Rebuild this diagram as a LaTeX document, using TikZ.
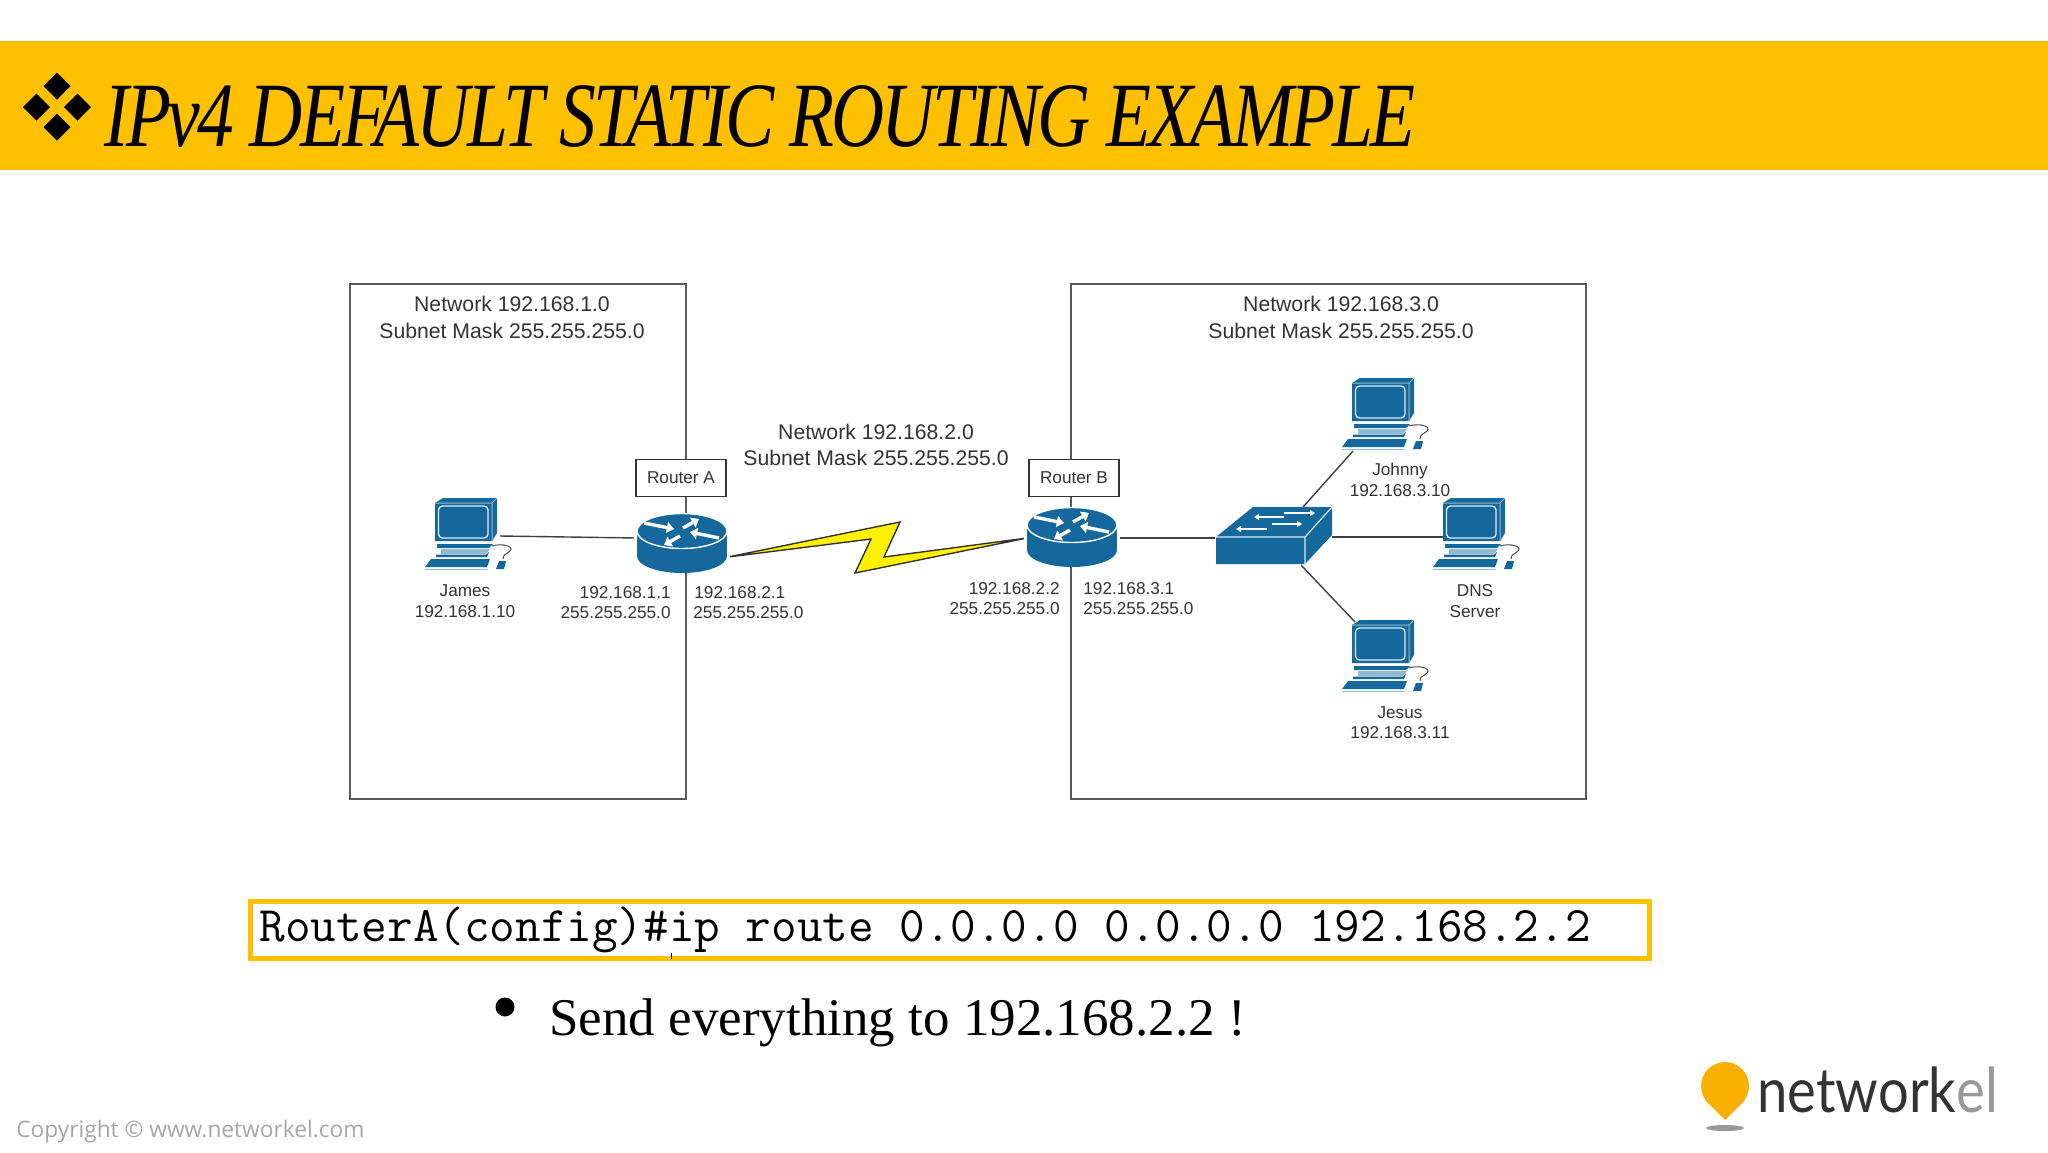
\documentclass[tikz,border=0pt]{standalone}
\usepackage{fontspec}
\setmainfont{Liberation Sans}
\newfontfamily\titlefont[LetterSpace=-4]{Liberation Serif}
\newfontfamily\bodyserif{Liberation Serif}
\newfontfamily\copyfont{Open Sans}
\newfontfamily\logofont{Lato}
\usetikzlibrary{arrows.meta}
\definecolor{bannercol}{HTML}{FFC000}
\definecolor{cisco}{HTML}{14689B}
\definecolor{ciscolight}{HTML}{8FBBD3}
\definecolor{boxline}{HTML}{5A5A5A}
\definecolor{labeltext}{HTML}{333333}
\definecolor{pincol}{HTML}{F9B000}
\tikzset{
  x=0.5pt,y=-0.5pt,
  netbox/.style={draw=boxline,line width=1.4pt},
  routerlabel/.style={draw=labeltext,fill=white,line width=0.8pt,inner sep=0pt,text=labeltext,
    font=\fontsize{8.6}{10}\selectfont,minimum width=45pt,minimum height=18.5pt},
  biglabel/.style={text=labeltext,inner sep=0pt,font=\fontsize{10.6}{12}\selectfont},
  smalllabel/.style={text=labeltext,inner sep=0pt,font=\fontsize{8.6}{10}\selectfont},
  wire/.style={draw=black!75,line width=0.7pt},
  whitearrow/.style={white,line width=1.7pt,-{Triangle[length=3.6pt,width=5.5pt]}},
  pcicon/.pic={
    \fill[cisco] (0,2)--(8,-3)--(62,-3)--(62,32)--(57,40)--(0,40)--cycle;
    \draw[ciscolight,line width=0.5pt] (0,2)--(57,2)--(62,-3) (57,2)--(57,40);
    \draw[white!85!cisco,line width=0.7pt,rounded corners=2pt] (3.5,5)rectangle(53,37);
    \fill[cisco] (2,43)--(58,43)--(54,47)--(2,47)--cycle;
    \fill[ciscolight] (6,48)--(55,48)--(51,53)--(6,53)--cycle;
    \fill[cisco] (1,53.5)--(51,53.5)--(54,51)--(52,56)--(1,56)--cycle;
    \fill[cisco] (-4,58)--(55,58)--(52,66)--(-10,66)--cycle;
    \draw[ciscolight,line width=0.5pt] (-10,68)--(53,68);
    \fill[cisco] (64,60)--(71,60)--(69,68)--(61,68)--cycle;
    \draw[black!70,line width=0.5pt] (57,45) .. controls (66,42) and (80,45) .. (75,50) .. controls (72,53) and (68,53) .. (68,58);
  },
  routericon/.pic={
    \fill[white] (-48,-2) rectangle (48,30);
    \fill[cisco] (-45,0) rectangle (45,25);
    \fill[cisco] (0,25) circle[x radius=45,y radius=17];
    \fill[cisco,draw=white,line width=0.7pt] (0,0) circle[x radius=45,y radius=17.5];
    \draw[whitearrow] (-38,-8)--(-8,-2);
    \draw[whitearrow] (1,-3)--(17,-12);
    \draw[whitearrow] (37,7)--(8,1);
    \draw[whitearrow] (-2,5)--(-18,14);
  },
}
\begin{document}
\begin{tikzpicture}
\useasboundingbox[fill=white] (0,0) rectangle (2048,1152);
% banner
\fill[bannercol] (0,41) rectangle (2048,170);
\foreach \dx/\dy in {57/86,36.5/107,77.5/107,57/127}
  \fill[black] (\dx-13.5,\dy)--(\dx,\dy-13.5)--(\dx+13.5,\dy)--(\dx,\dy+13.5)--cycle;
\node[anchor=west,inner sep=0pt] (title) at (104,116)
  {\scalebox{0.80}[1]{\titlefont\itshape\fontsize{46}{50}\selectfont IPv4 DEFAULT STATIC ROUTING EXAMPLE}};
% network boxes
\draw[netbox] (350,284) rectangle (686,799);
\draw[netbox] (1071,284) rectangle (1586,799);
% labels of networks
\node[biglabel] (n1a) at (512,304) {Network 192.168.1.0};
\node[biglabel] (n1b) at (512,331) {Subnet Mask 255.255.255.0};
\node[biglabel] (n3a) at (1341,304) {Network 192.168.3.0};
\node[biglabel] (n3b) at (1341,331) {Subnet Mask 255.255.255.0};
\node[biglabel] (n2a) at (876,432) {Network 192.168.2.0};
\node[biglabel] (n2b) at (876,458) {Subnet Mask 255.255.255.0};
% anchors
\coordinate (jamesR) at (500,536);
\coordinate (raL) at (637,538);
\coordinate (rbR) at (1118,538);
\coordinate (swL) at (1215,538);
\coordinate (swR) at (1332,537);
\coordinate (dnsL) at (1443,537);
\coordinate (swT) at (1303,507);
\coordinate (johnnyB) at (1353,451);
\coordinate (swB) at (1301,565);
\coordinate (jesusT) at (1355,622);
% connectors
\draw[wire] (jamesR) -- (raL);
\draw[wire] (rbR) -- (swL);
\draw[wire] (swR) -- (dnsL);
\draw[wire] (swT) -- (johnnyB);
\draw[wire] (swB) -- (jesusT);
% bolt
\coordinate (raE) at (728,557);
\coordinate (rbW) at (1027,538);
\draw[fill=yellow,draw=black!80,line width=0.7pt,line join=miter] (raE)--(900,522)--(884,557)--(rbW)--(855,573)--(871,539)--cycle;
% icons
\pic at (435,501) {pcicon};
\pic at (1352,381) {pcicon};
\pic at (1443,501) {pcicon};
\pic at (1352,623) {pcicon};
\pic at (682,531) {routericon};
\pic at (1072,525) {routericon};
% switch
\fill[cisco] (1216,537)--(1253,507)--(1332,507)--(1332,535)--(1305,564)--(1216,564)--cycle;
\draw[white!85!cisco,line width=0.6pt] (1216,537)--(1305,537)--(1332,507) (1305,537)--(1305,564);
\foreach \xa/\xb/\yy in {1284/1315/513,1272/1302/524}
  \draw[white,line width=0.7pt,-{Triangle[length=2.5pt,width=3pt]}] (\xa,\yy)--(\xb,\yy);
\foreach \xa/\xb/\yy in {1284/1254/517,1267/1236/529}
  \draw[white,line width=0.7pt,-{Triangle[length=2.5pt,width=3pt]}] (\xa,\yy)--(\xb,\yy);
% router labels
\node[routerlabel] (ra) at (681,478) {Router A};
\node[routerlabel] (rb) at (1074,478) {Router B};
% device labels
\node[smalllabel] (l1) at (465,591) {James};
\node[smalllabel] (l2) at (465,612) {192.168.1.10};
\node[smalllabel,anchor=east] (l3) at (671,593) {192.168.1.1};
\node[smalllabel,anchor=east] (l4) at (671,613) {255.255.255.0};
\node[smalllabel,anchor=west] (l5) at (694,593) {192.168.2.1};
\node[smalllabel,anchor=west] (l6) at (693,613) {255.255.255.0};
\node[smalllabel,anchor=east] (l7) at (1060,589) {192.168.2.2};
\node[smalllabel,anchor=east] (l8) at (1060,609) {255.255.255.0};
\node[smalllabel,anchor=west] (l9) at (1083,589) {192.168.3.1};
\node[smalllabel,anchor=west] (l10) at (1083,609) {255.255.255.0};
\node[smalllabel] (l11) at (1400,471) {Johnny};
\node[smalllabel] (l12) at (1400,491) {192.168.3.10};
\node[smalllabel] (l13) at (1475,591) {DNS};
\node[smalllabel] (l14) at (1475,612) {Server};
\node[smalllabel] (l15) at (1400,713) {Jesus};
\node[smalllabel] (l16) at (1400,733) {192.168.3.11};
% command box
\draw[bannercol,line width=2.5pt] (250,901) rectangle (1649,958);
\draw[white,line width=0.9pt] (258,955.5)--(1596,955.5);
\draw[black,line width=0.4pt] (671,953)--(671,959);
\node[anchor=west,inner sep=0pt] (cmd) at (259,930)
  {\ttfamily\fontsize{24.86}{28}\selectfont RouterA(config)\#ip route 0.0.0.0 0.0.0.0 192.168.2.2};
% bullet
\fill[black] (505,1007) circle[radius=9.5];
\node[anchor=west,inner sep=0pt] (send) at (549,1023)
  {\bodyserif\fontsize{26.5}{30}\selectfont Send everything to 192.168.2.2 !};
% copyright
\node[anchor=west,inner sep=0pt,text=black!35] (copy) at (16,1132)
  {\copyfont\fontsize{11.35}{13}\selectfont Copyright © www.networkel.com};
% logo
\fill[black!40] (1725,1128) circle[x radius=19,y radius=3];
\fill[pincol] (1725,1120)--(1705,1100)--(1745,1100)--cycle;
\fill[pincol] (1725,1086) circle[radius=24];
\node[anchor=west,inner sep=0pt] (logo) at (1757,1090)
  {\scalebox{0.877}[1]{\logofont\fontsize{31}{34}\selectfont\textcolor{black!80}{network}\textcolor{black!40}{el}}};
\end{tikzpicture}
\end{document}
